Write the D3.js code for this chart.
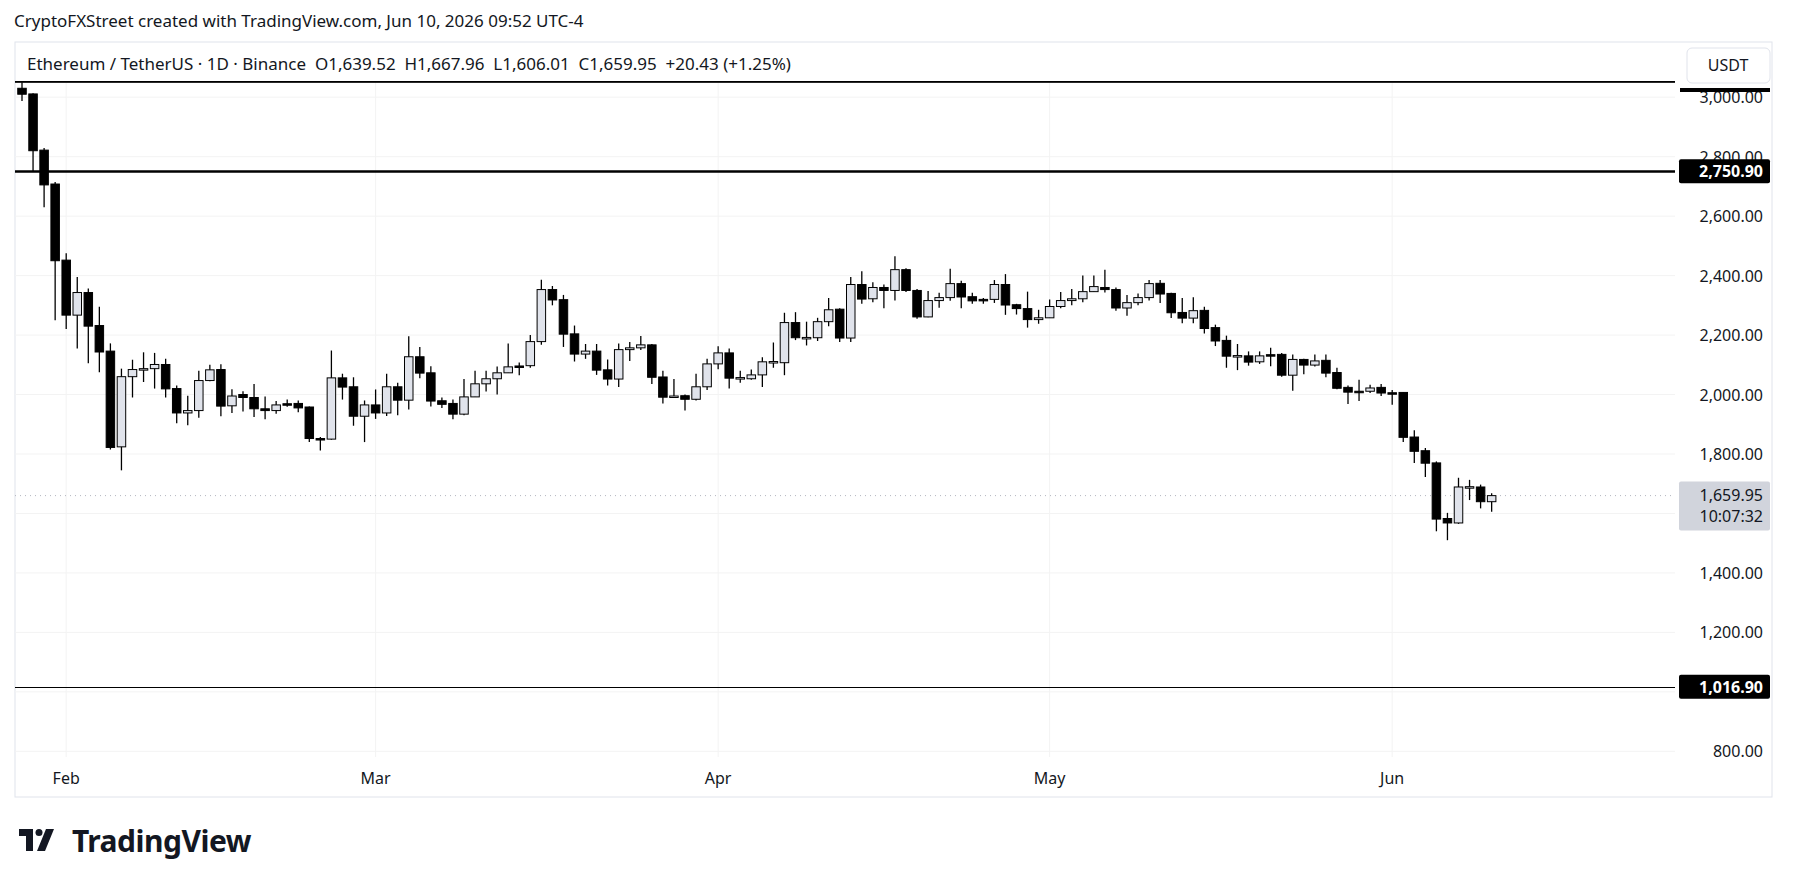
<!DOCTYPE html>
<html>
<head>
<meta charset="utf-8">
<script src="https://cdn.jsdelivr.net/npm/d3@7"></script>
<style>
  body { margin: 0; background: #fff; }
  text { font-family: "Noto Sans", "DejaVu Sans", sans-serif; }
</style>
</head>
<body>
<script>
var startDay = "2026-01-28";
var open  = [3030,3011,2822,2708,2452,2267,2343,2232,2146,1824,2060,2083,2087,2101,2020,1938,1946,2047,2084,1962,2000,1990,1952,1946,1969,1970,1958,1852,1850,2056,2026,1927,1965,1938,2026,1981,2127,2073,1979,1970,1934,1992,2036,2053,2073,2096,2097,2178,2353,2319,2204,2136,2146,2083,2052,2151,2157,2167,2059,1993,1996,1984,2026,2103,2140,2056,2053,2066,2110,2107,2242,2191,2191,2245,2287,2190,2370,2322,2360,2350,2420,2350,2261,2316,2326,2373,2329,2320,2320,2370,2302,2289,2252,2258,2296,2316,2322,2346,2360,2353,2291,2309,2326,2374,2340,2276,2257,2283,2225,2182,2130,2130,2110,2134,2135,2065,2118,2099,2115,2074,2024,2011,2011,2024,2006,2007,1857,1811,1770,1583,1568,1689,1689,1639.52];
var high  = [3050,3013,2829,2715,2475,2395,2357,2295,2172,2087,2117,2142,2140,2120,2030,1996,2080,2100,2102,2018,2011,2035,1993,1978,1983,1980,1960,1857,2148,2070,2058,1980,2017,2070,2040,2196,2160,2095,1990,1983,2052,2080,2080,2094,2172,2108,2200,2386,2365,2335,2232,2170,2170,2118,2172,2177,2197,2170,2080,2052,2000,2070,2120,2162,2155,2080,2084,2125,2175,2275,2277,2245,2258,2325,2290,2395,2415,2378,2370,2465,2425,2355,2348,2342,2423,2383,2342,2325,2385,2405,2305,2346,2285,2320,2345,2355,2400,2400,2420,2360,2335,2340,2385,2385,2342,2325,2327,2295,2235,2198,2170,2145,2145,2157,2140,2135,2120,2135,2135,2090,2030,2050,2033,2035,2015,2008,1880,1820,1775,1602,1720,1713,1697,1667.96];
var low   = [2987,2750,2630,2250,2220,2155,2105,2075,1815,1745,1990,2042,2020,1990,1903,1897,1922,2045,1927,1938,1943,1924,1917,1935,1959,1940,1840,1812,1848,1983,1895,1840,1918,1928,1930,1950,2055,1960,1955,1917,1930,1992,2010,2000,2073,2065,2090,2167,2300,2160,2111,2120,2066,2030,2025,2113,2150,2035,1970,1990,1946,1980,2015,2085,2020,2040,2050,2025,2090,2065,2183,2165,2180,2230,2177,2177,2305,2310,2290,2316,2345,2255,2260,2292,2315,2290,2305,2305,2308,2268,2269,2225,2238,2258,2290,2300,2310,2346,2343,2282,2265,2300,2316,2308,2257,2240,2240,2205,2163,2090,2082,2097,2103,2095,2060,2013,2068,2094,2058,2018,1968,1978,2005,1995,1966,1840,1770,1723,1540,1510,1565,1645,1617,1606.01];
var close = [3010,2820,2705,2450,2267,2343,2230,2143,1822,2060,2084,2087,2101,2019,1938,1946,2047,2083,1961,1995,1990,1952,1946,1965,1964,1955,1852,1850,2056,2025,1927,1965,1938,2026,1981,2127,2072,1978,1967,1934,1992,2036,2053,2073,2093,2092,2178,2353,2318,2203,2136,2146,2082,2052,2151,2157,2167,2058,1991,1995,1984,2026,2103,2140,2055,2057,2066,2110,2111,2242,2191,2192,2245,2285,2190,2370,2321,2360,2350,2420,2350,2261,2316,2326,2373,2328,2315,2315,2370,2301,2289,2252,2258,2296,2316,2322,2346,2363,2353,2291,2309,2326,2373,2338,2275,2257,2282,2222,2180,2129,2131,2109,2130,2130,2065,2118,2099,2113,2072,2021,2008,2010,2022,2005,2005,1856,1809,1769,1581,1568,1689,1690,1639.52,1659.95];
var priceTicks = [800,1000,1200,1400,1600,1800,2000,2200,2400,2600,2800,3000];
var axisTicks = [800,1200,1400,1800,2000,2200,2400,2600,2800,3000];
var monthTicks = ["2026-02-01","2026-03-01","2026-04-01","2026-05-01","2026-06-01"];
var hLines = [2750.90, 1016.90];
var topLine = 3050;
var lastPrice = 1659.95;

var W = 1793, H = 887,
    plotL = 15, plotR = 1675, plotT = 82, plotB = 757;

var parse = d3.timeParse("%Y-%m-%d");
var t0 = parse(startDay);
var candles = open.map(function(o, i) {
  return { date: d3.timeDay.offset(t0, i), o: o, h: high[i], l: low[i], c: close[i] };
});

var x = d3.scaleTime()
    .domain([t0, candles[candles.length - 1].date])
    .range([22, 22 + 11.05 * (candles.length - 1)]);
var y = d3.scaleLinear().domain([800, 3000]).range([751.3, 97.2]);
var fmt = d3.format(",.2f");

var svg = d3.select("body").append("svg").attr("width", W).attr("height", H);

svg.append("text").attr("x", 14).attr("y", 27).attr("font-size", 17).attr("fill", "#131722")
   .text("CryptoFXStreet created with TradingView.com, Jun 10, 2026 09:52 UTC-4");

svg.append("rect").attr("x", plotL).attr("y", 42).attr("width", 1772 - plotL).attr("height", 797 - 42)
   .attr("fill", "none").attr("stroke", "#e0e3eb");

svg.append("clipPath").attr("id", "plot").append("rect")
   .attr("x", plotL).attr("y", plotT).attr("width", plotR - plotL).attr("height", plotB - plotT);

var g = svg.append("g").attr("clip-path", "url(#plot)");

g.selectAll(".hgrid").data(priceTicks).enter().append("line")
   .attr("x1", plotL).attr("x2", plotR)
   .attr("y1", function(d) { return y(d) }).attr("y2", function(d) { return y(d) })
   .attr("stroke", "#f3f3f3");
g.selectAll(".vgrid").data(monthTicks).enter().append("line")
   .attr("x1", function(d) { return x(parse(d)) }).attr("x2", function(d) { return x(parse(d)) })
   .attr("y1", plotT).attr("y2", plotB).attr("stroke", "#f3f3f3");

g.append("line").attr("x1", plotL).attr("x2", plotR)
   .attr("y1", y(lastPrice)).attr("y2", y(lastPrice))
   .attr("stroke", "#b2b5be").attr("stroke-dasharray", "1,4");

var bw = 8.5;
g.selectAll(".wick").data(candles).enter().append("line")
   .attr("x1", function(d) { return x(d.date) }).attr("x2", function(d) { return x(d.date) })
   .attr("y1", function(d) { return y(d.h) }).attr("y2", function(d) { return y(d.l) })
   .attr("stroke", "#000").attr("stroke-width", 1.3);
g.selectAll(".body").data(candles).enter().append("rect")
   .attr("x", function(d) { return x(d.date) - bw / 2 })
   .attr("y", function(d) { return y(Math.max(d.o, d.c)) })
   .attr("width", bw)
   .attr("height", function(d) { return Math.max(1.5, Math.abs(y(d.o) - y(d.c))) })
   .attr("fill", function(d) { return d.c >= d.o ? "#e0e3eb" : "#000" })
   .attr("stroke", "#000").attr("stroke-width", 1);

g.append("line").attr("x1", plotL).attr("x2", plotR)
   .attr("y1", y(topLine)).attr("y2", y(topLine)).attr("stroke", "#000").attr("stroke-width", 1);
g.selectAll(".hline").data(hLines).enter().append("line")
   .attr("x1", plotL).attr("x2", plotR)
   .attr("y1", function(d) { return Math.round(y(d)) + 0.5 }).attr("y2", function(d) { return Math.round(y(d)) + 0.5 })
   .attr("stroke", "#000").attr("stroke-width", function(d, i) { return i == 0 ? 2.5 : 1.2 });

// legend strip
svg.append("rect").attr("x", plotL + 1).attr("y", 43).attr("width", plotR - plotL - 1).attr("height", plotT - 44).attr("fill", "#fff");
svg.append("line").attr("x1", plotL).attr("x2", plotR).attr("y1", 81.5).attr("y2", 81.5).attr("stroke", "#000");
svg.append("text").attr("x", 27).attr("y", 70).attr("font-size", 17).attr("fill", "#131722")
   .style("white-space", "pre")
   .text("Ethereum / TetherUS \u00b7 1D \u00b7 Binance  O1,639.52  H1,667.96  L1,606.01  C1,659.95  +20.43 (+1.25%)");

// price axis
var ax = svg.append("g");
ax.append("clipPath").attr("id", "axclip").append("rect")
   .attr("x", plotR).attr("y", 88).attr("width", 100).attr("height", plotB - 88);
var axg = ax.append("g").attr("clip-path", "url(#axclip)");
axg.selectAll(".tick").data(axisTicks).enter().append("text")
   .attr("x", 1763).attr("y", function(d) { return y(d) + 6 })
   .attr("text-anchor", "end").attr("font-size", 16).attr("fill", "#131722")
   .text(function(d) { return fmt(d) });
axg.append("rect").attr("x", 1680).attr("y", 88).attr("width", 90).attr("height", 4).attr("fill", "#000");

ax.append("rect").attr("x", 1687).attr("y", 48).attr("width", 83).attr("height", 35).attr("rx", 5)
   .attr("fill", "#fff").attr("stroke", "#e0e3eb");
ax.append("text").attr("x", 1728).attr("y", 71).attr("text-anchor", "middle").attr("font-size", 16)
   .attr("fill", "#131722").text("USDT");

ax.selectAll(".hl").data(hLines).enter().append("rect")
   .attr("x", 1679).attr("y", function(d) { return y(d) - 12 }).attr("width", 91).attr("height", 24)
   .attr("rx", 2).attr("fill", "#000");
ax.selectAll(".hlt").data(hLines).enter().append("text")
   .attr("x", 1763).attr("y", function(d) { return y(d) + 6 }).attr("text-anchor", "end")
   .attr("font-size", 16).attr("font-weight", "bold").attr("fill", "#fff")
   .text(function(d) { return fmt(d) });

ax.append("rect").attr("x", 1679).attr("y", y(lastPrice) - 14).attr("width", 91).attr("height", 49)
   .attr("rx", 2).attr("fill", "#d1d4dc");
ax.append("text").attr("x", 1763).attr("y", y(lastPrice) + 5).attr("text-anchor", "end")
   .attr("font-size", 16).attr("fill", "#131722").text(fmt(lastPrice));
ax.append("text").attr("x", 1763).attr("y", y(lastPrice) + 26).attr("text-anchor", "end")
   .attr("font-size", 16).attr("fill", "#131722").text("10:07:32");

// time axis
svg.selectAll(".month").data(monthTicks).enter().append("text")
   .attr("x", function(d) { return x(parse(d)) }).attr("y", 784)
   .attr("text-anchor", "middle").attr("font-size", 16).attr("fill", "#131722")
   .text(function(d) { return d3.timeFormat("%b")(parse(d)) });

// logo
var logo = svg.append("g").attr("transform", "translate(19,829)");
logo.append("path").attr("d", "M0,0 H14 V22 H7 V7 H0 Z").attr("fill", "#131722");
logo.append("circle").attr("cx", 20).attr("cy", 3.5).attr("r", 3.5).attr("fill", "#131722");
logo.append("path").attr("d", "M27,0 H35 L26,22 H18 Z").attr("fill", "#131722");
svg.append("text").attr("x", 72).attr("y", 852).attr("font-size", 30).attr("font-weight", "bold")
   .attr("fill", "#131722").attr("letter-spacing", -0.5).text("TradingView");
</script>
</body>
</html>
